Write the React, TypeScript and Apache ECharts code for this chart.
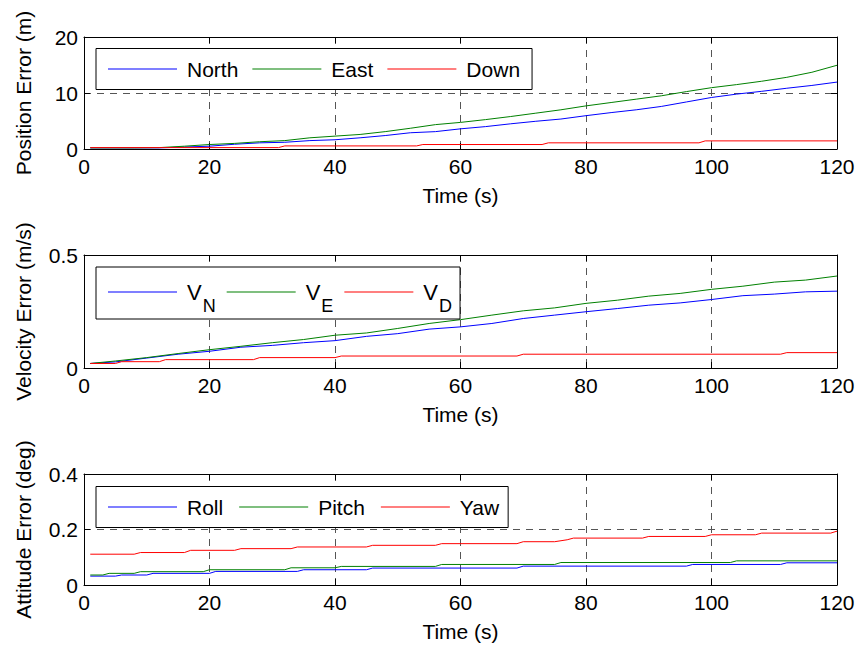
import React, { useEffect, useRef } from "react";
import * as echarts from "echarts";

const FONT = "'Liberation Sans', Arial, Helvetica, sans-serif";

// ---------- Panel 1: position error (m) ----------
const posT = [1, 4, 8, 12, 16, 20, 24, 28, 32, 36, 40, 44, 48, 52, 56, 60, 64, 68, 72, 76, 80, 84, 88, 92, 96, 100, 104, 108, 112, 116, 120];
const northV = [0.2, 0.2, 0.2, 0.2, 0.35, 0.5, 0.85, 1.1, 1.2, 1.5, 1.65, 2.0, 2.4, 2.9, 3.1, 3.6, 4.0, 4.5, 4.95, 5.35, 5.95, 6.5, 7.0, 7.6, 8.4, 9.2, 9.8, 10.3, 10.85, 11.35, 11.95];
const eastV = [0.2, 0.2, 0.2, 0.25, 0.5, 0.8, 1.0, 1.3, 1.5, 2.0, 2.3, 2.6, 3.1, 3.7, 4.35, 4.75, 5.25, 5.8, 6.4, 7.0, 7.7, 8.3, 8.9, 9.5, 10.25, 10.95, 11.5, 12.1, 12.8, 13.7, 14.95];
const downT = [1, 31, 32, 53, 54, 73, 74, 98, 99, 120];
const downV = [0.25, 0.25, 0.55, 0.55, 0.8, 0.8, 1.1, 1.1, 1.45, 1.45];

// ---------- Panel 2: velocity error (m/s) ----------
const velT = [1, 5, 10, 15, 20, 25, 30, 35, 40, 45, 50, 55, 60, 65, 70, 75, 80, 85, 90, 95, 100, 105, 110, 115, 120];
const vnV = [0.02, 0.027, 0.044, 0.061, 0.074, 0.092, 0.1, 0.112, 0.121, 0.14, 0.152, 0.172, 0.182, 0.197, 0.219, 0.234, 0.249, 0.263, 0.278, 0.288, 0.303, 0.32, 0.327, 0.337, 0.34];
const veV = [0.02, 0.031, 0.046, 0.064, 0.081, 0.096, 0.112, 0.126, 0.145, 0.155, 0.175, 0.197, 0.214, 0.234, 0.253, 0.266, 0.286, 0.3, 0.318, 0.33, 0.348, 0.362, 0.38, 0.389, 0.407];
const vdT = [1, 5, 6, 12, 13, 27, 28, 40, 41, 69, 70, 111, 112, 120];
const vdV = [0.02, 0.02, 0.028, 0.028, 0.037, 0.037, 0.046, 0.046, 0.053, 0.053, 0.061, 0.061, 0.068, 0.068];

// ---------- Panel 3: attitude error (deg) ----------
const rollT = [1, 5, 6, 10, 11, 20, 21, 34, 35, 45, 46, 69, 70, 96, 97, 111, 112, 120];
const rollV = [0.032, 0.032, 0.036, 0.036, 0.042, 0.042, 0.049, 0.049, 0.055, 0.055, 0.061, 0.061, 0.068, 0.068, 0.074, 0.074, 0.08, 0.08];
const pitchT = [1, 3, 4, 8, 9, 19, 20, 32, 33, 40, 41, 56, 57, 75, 76, 103, 104, 120];
const pitchV = [0.036, 0.036, 0.042, 0.042, 0.048, 0.048, 0.055, 0.055, 0.062, 0.062, 0.067, 0.067, 0.074, 0.074, 0.081, 0.081, 0.087, 0.087];
const yawT = [1, 8, 9, 16, 17, 24, 25, 33, 34, 45, 46, 56, 57, 69, 70, 75, 77, 78, 89, 90, 99, 100, 107, 108, 119, 120];
const yawV = [0.111, 0.111, 0.117, 0.117, 0.125, 0.125, 0.131, 0.131, 0.137, 0.137, 0.143, 0.143, 0.149, 0.149, 0.156, 0.156, 0.163, 0.169, 0.169, 0.175, 0.175, 0.181, 0.181, 0.187, 0.187, 0.194];

const xTicks = { min: 0, max: 120, interval: 20 };
const yNames = ["Position Error (m)", "Velocity Error (m/s)", "Attitude Error (deg)"];
const yMax = [20, 0.5, 0.4];
const yInterval = [10, 0.5, 0.2];
const xName = "Time (s)";
const legendNames = [["North", "East", "Down"], ["VN", "VE", "VD"], ["Roll", "Pitch", "Yaw"]];

const BLUE = "#0000ff";
const GREEN = "#008000";
const RED = "#ff0000";
const COLORS = [BLUE, GREEN, RED];

const zip = (t: number[], v: number[]) => t.map((x, i) => [x, v[i]]);

export default function App() {
  const ref = useRef<HTMLDivElement>(null);
  useEffect(() => {
    if (!ref.current) return;
    const chart = echarts.init(ref.current, null, { renderer: "svg" });
    const tops = [37, 255, 474];
    const heights = [112, 113, 111];
    const grids = tops.map((top, i) => ({
      left: 84,
      width: 753,
      top,
      height: heights[i],
      show: false,
    }));
    const dash = { type: [7, 6] as any, color: "#555", width: 1 };
    const tick = { show: true, inside: true, length: 6, lineStyle: { color: "#000" } };
    const line = { show: true, onZero: false, lineStyle: { color: "#000", width: 1 } };
    const xAxes: any[] = [];
    const yAxes: any[] = [];
    [0, 1, 2].forEach((i) => {
      xAxes.push({
        type: "value",
        gridIndex: i,
        position: "bottom",
        ...xTicks,
        name: xName,
        nameLocation: "middle",
        nameGap: 36,
        nameTextStyle: { fontSize: 21, color: "#000", fontFamily: FONT },
        axisLine: line,
        axisTick: tick,
        axisLabel: { fontSize: 21, color: "#000", margin: 7, fontFamily: FONT },
        splitLine: { show: true, showMinLine: false, showMaxLine: false, lineStyle: dash },
      });
      yAxes.push({
        type: "value",
        gridIndex: i,
        position: "left",
        min: 0,
        max: yMax[i],
        interval: yInterval[i],
        name: yNames[i],
        nameLocation: "middle",
        nameGap: 50,
        nameTextStyle: { fontSize: 21, color: "#000", fontFamily: FONT },
        axisLine: line,
        axisTick: tick,
        axisLabel: { fontSize: 21, color: "#000", margin: 6, fontFamily: FONT },
        splitLine: { show: true, showMinLine: false, showMaxLine: false, lineStyle: dash },
      });
    });
    [0, 1, 2].forEach((i) => {
      xAxes.push({
        type: "value",
        gridIndex: i,
        position: "top",
        ...xTicks,
        axisLine: line,
        axisTick: tick,
        axisLabel: { show: false },
        splitLine: { show: false },
      });
      yAxes.push({
        type: "value",
        gridIndex: i,
        position: "right",
        min: 0,
        max: yMax[i],
        interval: yInterval[i],
        axisLine: line,
        axisTick: tick,
        axisLabel: { show: false },
        splitLine: { show: false },
      });
    });
    const mk = (name: string, color: string, gi: number, data: number[][]) => ({
      type: "line",
      name,
      xAxisIndex: gi,
      yAxisIndex: gi,
      data,
      symbol: "none",
      showSymbol: false,
      color,
      itemStyle: { color },
      lineStyle: { color, width: 1 },
      z: 3,
    });
    const legendData = (names: string[]) =>
      names.map((name, k) => ({
        name,
        icon: "rect",
        itemStyle: { color: COLORS[k], borderWidth: 0, opacity: 1 },
      }));
    const legendBase = {
      orient: "horizontal",
      left: 96,
      itemWidth: 69,
      itemHeight: 1,
      borderColor: "#000",
      borderWidth: 1,
      borderRadius: 0,
      backgroundColor: "#fff",
      z: 10,
    };
    const plainText = {
      fontSize: 21,
      color: "#000",
      fontFamily: FONT,
      padding: [0, 0, 0, 5],
    };
    chart.setOption({
      animation: false,
      backgroundColor: "#fff",
      grid: grids,
      xAxis: xAxes,
      yAxis: yAxes,
      legend: [
        {
          ...legendBase,
          data: legendData(legendNames[0]),
          top: 48.5,
          itemGap: 14,
          padding: [10, 12, 10, 12],
          textStyle: plainText,
        },
        {
          ...legendBase,
          data: legendData(legendNames[1]),
          top: 267,
          itemGap: 11,
          padding: [2, 8, 4, 12],
          formatter: (n: string) => `{v|V}{s|${n.slice(1)}}`,
          textStyle: {
            fontSize: 22,
            color: "#000",
            fontFamily: FONT,
            padding: [0, 0, 0, 5],
            rich: {
              v: { fontSize: 22, lineHeight: 22, color: "#000", fontFamily: FONT },
              s: { fontSize: 18, lineHeight: 18, color: "#000", fontFamily: FONT, padding: [28, 0, 0, 1] },
            },
          },
        },
        {
          ...legendBase,
          data: legendData(legendNames[2]),
          top: 486.5,
          itemGap: 16,
          padding: [10, 9, 10, 12],
          textStyle: plainText,
        },
      ],
      series: [
        mk("North", BLUE, 0, zip(posT, northV)),
        mk("East", GREEN, 0, zip(posT, eastV)),
        mk("Down", RED, 0, zip(downT, downV)),
        mk("VN", BLUE, 1, zip(velT, vnV)),
        mk("VE", GREEN, 1, zip(velT, veV)),
        mk("VD", RED, 1, zip(vdT, vdV)),
        mk("Roll", BLUE, 2, zip(rollT, rollV)),
        mk("Pitch", GREEN, 2, zip(pitchT, pitchV)),
        mk("Yaw", RED, 2, zip(yawT, yawV)),
      ],
    });
    return () => chart.dispose();
  }, []);
  return (
    <div
      ref={ref}
      style={{ position: "fixed", left: 0, top: 0, width: 862, height: 653, background: "#fff" }}
    />
  );
}
